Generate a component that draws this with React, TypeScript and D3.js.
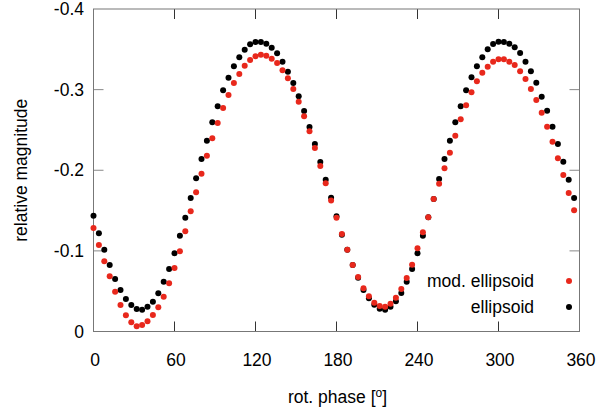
import React from "react";
import * as d3 from "d3";

const phases: number[] = Array.from({ length: 90 }, (_, i) => i * 4);

const ellipsoid: number[] = [
  -0.1437, -0.1218, -0.1015, -0.0825, -0.0651, -0.0515, -0.0403, -0.0329, -0.0279, -0.0271,
  -0.0308, -0.0370, -0.0473, -0.0618, -0.0775, -0.0970, -0.1189, -0.1412, -0.1656, -0.1900,
  -0.2140, -0.2367, -0.2594, -0.2793, -0.2991, -0.3148, -0.3289, -0.3401, -0.3496, -0.3562,
  -0.3591, -0.3591, -0.3570, -0.3520, -0.3450, -0.3347, -0.3223, -0.3082, -0.2917, -0.2735,
  -0.2536, -0.2326, -0.2102, -0.1883, -0.1660, -0.1428, -0.1201, -0.1015, -0.0825, -0.0668,
  -0.0515, -0.0411, -0.0333, -0.0283, -0.0271, -0.0308, -0.0374, -0.0478, -0.0618, -0.0775,
  -0.0970, -0.1189, -0.1416, -0.1643, -0.1891, -0.2140, -0.2367, -0.2594, -0.2793, -0.2991,
  -0.3153, -0.3289, -0.3401, -0.3500, -0.3566, -0.3595, -0.3591, -0.3570, -0.3525, -0.3454,
  -0.3347, -0.3227, -0.3086, -0.2913, -0.2739, -0.2541, -0.2326, -0.2106, -0.1883, -0.1656,
];

const modEllipsoid: number[] = [
  -0.1284, -0.1073, -0.0870, -0.0684, -0.0494, -0.0329, -0.0201, -0.0114, -0.0064, -0.0081,
  -0.0126, -0.0205, -0.0300, -0.0432, -0.0597, -0.0788, -0.0994, -0.1242, -0.1490, -0.1726,
  -0.1958, -0.2181, -0.2396, -0.2586, -0.2772, -0.2933, -0.3082, -0.3194, -0.3297, -0.3367,
  -0.3413, -0.3434, -0.3421, -0.3384, -0.3330, -0.3239, -0.3140, -0.3008, -0.2851, -0.2669,
  -0.2483, -0.2276, -0.2053, -0.1838, -0.1625, -0.1410, -0.1209, -0.1015, -0.0825, -0.0675,
  -0.0535, -0.0436, -0.0358, -0.0316, -0.0308, -0.0345, -0.0420, -0.0527, -0.0664, -0.0829,
  -0.1032, -0.1230, -0.1416, -0.1643, -0.1834, -0.2024, -0.2218, -0.2429, -0.2632, -0.2805,
  -0.2966, -0.3103, -0.3210, -0.3285, -0.3347, -0.3376, -0.3376, -0.3347, -0.3305, -0.3227,
  -0.3132, -0.3008, -0.2871, -0.2714, -0.2541, -0.2355, -0.2148, -0.1941, -0.1718, -0.1503,
];

const xTicks: number[] = [0, 60, 120, 180, 240, 300, 360];
const yTicks: number[] = [0, -0.1, -0.2, -0.3, -0.4];
const yTickLabels: string[] = ["0", "-0.1", "-0.2", "-0.3", "-0.4"];
const seriesNames: string[] = ["mod. ellipsoid", "ellipsoid"];
const seriesColors: string[] = ["#e8281c", "#000000"];

const W = 611;
const H = 414;
const left = 93.5;
const right = 579.5;
const top = 9;
const bottom = 331.5;
const font = "'Liberation Sans', Arial, sans-serif";

export default function App() {
  const x = d3.scaleLinear().domain([0, 360]).range([left, right]);
  const y = d3.scaleLinear().domain([0, -0.4]).range([bottom, top]);
  const tickLen = 10;
  const r = 3;

  return (
    <svg
      width={W}
      height={H}
      style={{ position: "absolute", left: 0, top: 0, background: "#fff" }}
      fontFamily={font}
    >
      <rect x={0} y={0} width={W} height={H} fill="#fff" />
      {/* x ticks */}
      {xTicks.slice(1, -1).map((t) => (
        <g key={"xt" + t}>
          <line x1={x(t)} x2={x(t)} y1={bottom} y2={bottom - tickLen} stroke="#333" strokeWidth={1} />
          <line x1={x(t)} x2={x(t)} y1={top} y2={top + tickLen} stroke="#333" strokeWidth={1} />
        </g>
      ))}
      {/* y ticks */}
      {yTicks.slice(1, -1).map((t) => (
        <g key={"yt" + t}>
          <line x1={left} x2={left + tickLen} y1={y(t)} y2={y(t)} stroke="#888" strokeWidth={1} />
          <line x1={right} x2={right - tickLen} y1={y(t)} y2={y(t)} stroke="#888" strokeWidth={1} />
        </g>
      ))}
      {/* frame */}
      <rect x={left} y={top} width={right - left} height={bottom - top} fill="none" stroke="#777" strokeWidth={1} />
      {/* tick labels */}
      {xTicks.map((t) => (
        <text key={"xl" + t} x={x(t) + 1.5} y={366} textAnchor="middle" fontSize={17.5} fill="#000">
          {t}
        </text>
      ))}
      {yTicks.map((t, i) => (
        <text key={"yl" + t} x={84} y={y(t) + 6} textAnchor="end" fontSize={17.5} fill="#000">
          {yTickLabels[i]}
        </text>
      ))}
      {/* axis labels */}
      <text
        transform={`translate(27,${(top + bottom) / 2}) rotate(-90)`}
        textAnchor="middle"
        fontSize={17.5}
        fill="#000"
      >
        relative magnitude
      </text>
      <text x={(left + right) / 2 + 1} y={403} textAnchor="middle" fontSize={17.5} fill="#000">
        rot. phase [<tspan dy={-6} fontSize={12}>o</tspan>
        <tspan dy={6}>]</tspan>
      </text>
      {/* series */}
      <g>
        {phases.map((p, i) => (
          <circle key={"b" + i} cx={x(p)} cy={y(ellipsoid[i])} r={r} fill={seriesColors[1]} />
        ))}
      </g>
      <g>
        {phases.map((p, i) => (
          <circle key={"r" + i} cx={x(p)} cy={y(modEllipsoid[i])} r={r} fill={seriesColors[0]} />
        ))}
      </g>
      {/* legend */}
      {seriesNames.map((n, i) => (
        <g key={"lg" + n}>
          <text x={534} y={287 + i * 26} textAnchor="end" fontSize={17.5} fill="#000">
            {n}
          </text>
          <circle cx={569} cy={281 + i * 26} r={r} fill={seriesColors[i]} />
        </g>
      ))}
    </svg>
  );
}
